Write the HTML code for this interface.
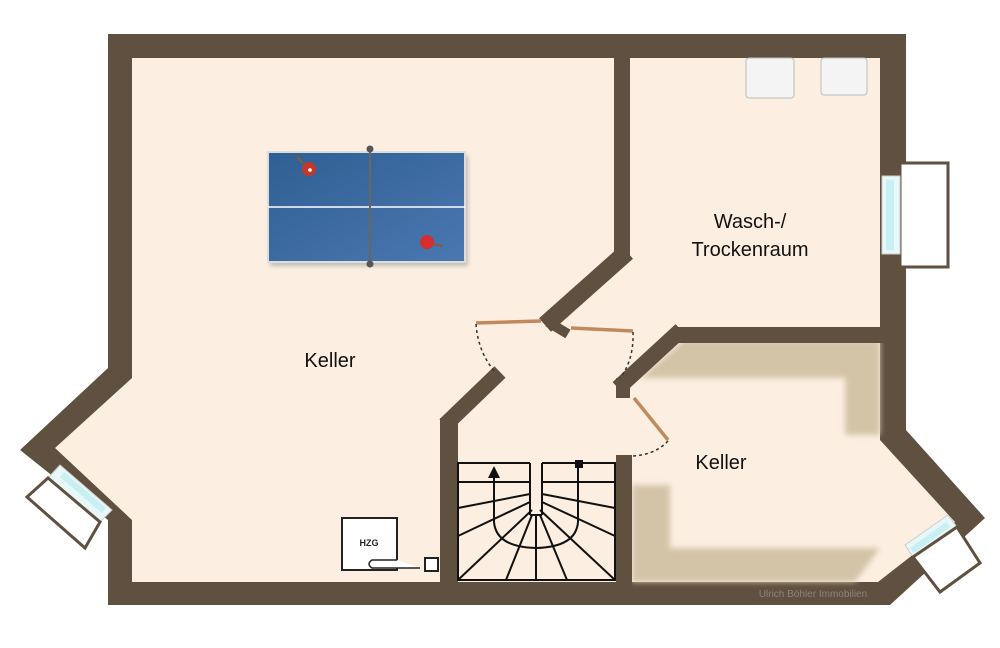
<!DOCTYPE html>
<html><head><meta charset="utf-8"><style>
html,body{margin:0;padding:0;background:#fff;}
svg{display:block;}
text{font-family:"Liberation Sans",Arial,sans-serif;}
</style></head><body>
<svg width="1000" height="648" viewBox="0 0 1000 648" xmlns="http://www.w3.org/2000/svg">
<defs>
<filter id="bl" x="-10%" y="-10%" width="120%" height="120%"><feGaussianBlur stdDeviation="3"/></filter>
<filter id="sh" x="-10%" y="-10%" width="130%" height="130%"><feGaussianBlur stdDeviation="2"/></filter>
<linearGradient id="tb" x1="0" y1="0" x2="1" y2="1"><stop offset="0" stop-color="#2f5f93"/><stop offset="1" stop-color="#4a77b0"/></linearGradient>
</defs>
<polygon points="108,34 906,34 906,430 985,518 890,605 108,605 108,520 20,450 108,368" fill="#5f5040"/>
<polygon points="132,58 880,58 880,440 955,522 878,582 132,582 132,520 55,448 132,378" fill="#fcefe1"/>
<g filter="url(#bl)" fill="#d3c4a8">
<polygon points="684,340 880,340 880,435 845,435 845,378 640,378"/>
<rect x="632" y="485" width="38" height="97"/>
<polygon points="632,548 880,548 855,582 632,582"/>
</g>
<g stroke="#5f5040" fill="none" stroke-linecap="butt">
<line x1="622" y1="34" x2="622" y2="258" stroke-width="16"/>
<line x1="627" y1="252" x2="545" y2="325" stroke-width="18"/>
<line x1="548" y1="322" x2="568" y2="334" stroke-width="10"/>
<line x1="500" y1="372" x2="445" y2="425" stroke-width="16"/>
<line x1="449" y1="418" x2="449" y2="590" stroke-width="18"/>
<line x1="675" y1="335" x2="906" y2="335" stroke-width="16"/>
<line x1="681" y1="330" x2="618" y2="388" stroke-width="16"/>
<line x1="623" y1="378" x2="623" y2="398" stroke-width="14"/>
<line x1="624" y1="455" x2="624" y2="590" stroke-width="16"/>
</g>
<g stroke="#c08a5e" stroke-width="3.5">
<line x1="476" y1="323" x2="541" y2="321"/>
<line x1="571" y1="328" x2="633" y2="331"/>
<line x1="634" y1="398" x2="668" y2="440"/>
</g>
<g stroke="#333" stroke-width="1.5" fill="none" stroke-dasharray="3,3">
<path d="M476,324 Q478,352 495,372"/>
<path d="M633,332 Q634,360 620,378"/>
<path d="M668,441 Q655,455 632,456"/>
</g>
<g>
<rect x="900" y="163" width="48" height="104" fill="#fff" stroke="#5f5040" stroke-width="3"/>
<rect x="882" y="176" width="18" height="78" fill="#e8f7f8" stroke="#ccc"/>
<rect x="886" y="180" width="8" height="70" fill="#c8f0f2"/>
<polygon points="60,465 112,510 100,522 48,478" fill="#e8f7f8" stroke="#ccc"/>
<polygon points="64,472 106,508 102,513 60,477" fill="#c8f0f2"/>
<polygon points="48,478 100,522 85,548 27,497" fill="#fff" stroke="#5f5040" stroke-width="3"/>
<polygon points="905,545 948,515 957,527 913,557" fill="#e8f7f8" stroke="#ccc"/>
<polygon points="910,548 946,522 950,527 914,553" fill="#c8f0f2"/>
<polygon points="913,557 957,527 980,563 940,592" fill="#fff" stroke="#5f5040" stroke-width="3"/>
</g>
<rect x="746" y="58" width="48" height="40" rx="3" fill="#f4f4f4" stroke="#bbb"/>
<rect x="821" y="58" width="46" height="37" rx="3" fill="#f4f4f4" stroke="#bbb"/>
<rect x="270" y="156" width="198" height="110" fill="#888" opacity="0.5" filter="url(#sh)"/>
<rect x="268" y="152" width="197" height="110" fill="url(#tb)" stroke="#ddd" stroke-width="2"/>
<line x1="268" y1="207" x2="465" y2="207" stroke="#fff" stroke-width="1.5"/>
<line x1="370" y1="148" x2="370" y2="266" stroke="#666" stroke-width="2"/>
<circle cx="370" cy="149" r="3.5" fill="#555"/><circle cx="370" cy="264" r="3.5" fill="#555"/>
<circle cx="309" cy="169" r="7" fill="#c0392b"/><circle cx="310" cy="170" r="1.8" fill="#fff"/>
<line x1="303" y1="163" x2="297" y2="157" stroke="#8a5a30" stroke-width="2"/>
<circle cx="427" cy="242" r="7" fill="#d32f2f"/>
<line x1="434" y1="244" x2="442" y2="246" stroke="#8a5a30" stroke-width="2"/>
<g stroke="#111" stroke-width="2" fill="none">
<polyline points="530,463 458,463 458,580 615,580 615,463 542,463"/>
<line x1="530" y1="463" x2="530" y2="515"/><line x1="542" y1="463" x2="542" y2="515"/>
<line x1="530" y1="515" x2="542" y2="515"/>
<line x1="458" y1="482" x2="530" y2="482"/><line x1="542" y1="482" x2="615" y2="482"/>
<line x1="458" y1="508" x2="530" y2="494"/><line x1="542" y1="494" x2="615" y2="508"/>
<line x1="458" y1="536" x2="530" y2="502"/><line x1="542" y1="502" x2="615" y2="536"/>
<line x1="458" y1="580" x2="532" y2="510"/><line x1="540" y1="510" x2="615" y2="580"/>
<line x1="506" y1="580" x2="532" y2="515"/><line x1="540" y1="515" x2="567" y2="580"/>
<line x1="536" y1="515" x2="536" y2="580"/>
<path d="M494,478 L494,522 Q496,547 536,548 Q576,547 578,522 L578,463"/>
</g>
<polygon points="494,466 488,478 500,478" fill="#111"/>
<rect x="575" y="460" width="8" height="8" fill="#111"/>
<rect x="342" y="518" width="55" height="52" fill="#fff" stroke="#222" stroke-width="2"/>
<text x="369" y="546" font-size="9" font-weight="bold" text-anchor="middle" fill="#222">HZG</text>
<path d="M397,560 L372,560 Q366,564 372,568 L420,568" stroke="#222" stroke-width="1.5" fill="#fff"/>
<rect x="425" y="558" width="13" height="13" fill="#fff" stroke="#222" stroke-width="2"/>
<text x="330" y="367" font-size="20" text-anchor="middle" fill="#111">Keller</text>
<text x="750" y="228" font-size="20" text-anchor="middle" fill="#111">Wasch-/</text>
<text x="750" y="256" font-size="20" text-anchor="middle" fill="#111">Trockenraum</text>
<text x="721" y="469" font-size="20" text-anchor="middle" fill="#111">Keller</text>
<text x="813" y="597" font-size="10" text-anchor="middle" fill="#8e8478">Ulrich Böhler Immobilien</text>
</svg>
</body></html>
